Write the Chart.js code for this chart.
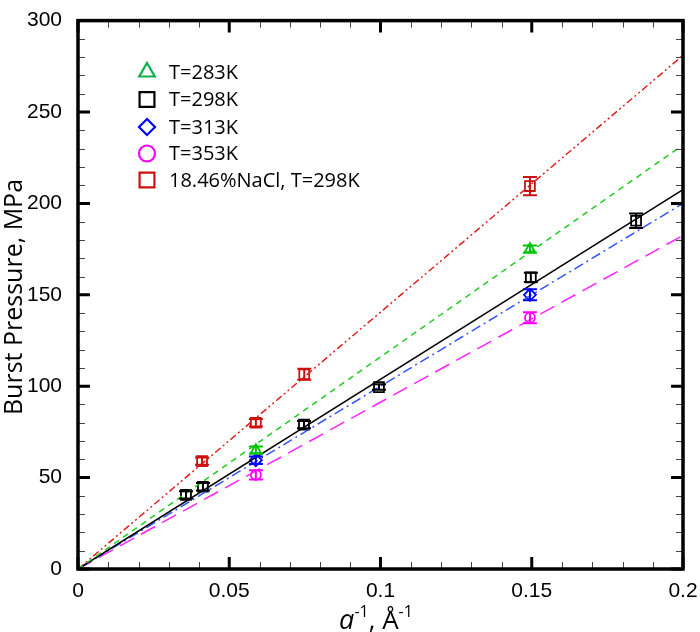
<!DOCTYPE html>
<html>
<head>
<meta charset="utf-8">
<script src="https://cdn.jsdelivr.net/npm/chart.js@4.4.0/dist/chart.umd.min.js"></script>
<style>
  html, body { margin: 0; padding: 0; background: #fff; }
  #wrap { width: 700px; height: 632px; }
</style>
</head>
<body>
<div id="wrap"><canvas id="chart"></canvas></div>
<script>
// axis ranges / ticks
const xTicks = [0, 0.05, 0.1, 0.15, 0.2];
const yTicks = [0, 50, 100, 150, 200, 250, 300];

// series
const seriesNames = ['T=283K', 'T=298K', 'T=313K', 'T=353K', '18.46%NaCl, T=298K'];

const x283 = [0.0588, 0.1494];
const y283 = [65, 175];
const e283 = [2, 2];

const x298 = [0.0357, 0.0413, 0.0747, 0.0995, 0.1497, 0.1845];
const y298 = [40.5, 45, 79, 99.5, 159.5, 190.5];
const e298 = [2, 2, 2, 1.5, 2.5, 4];

const x313 = [0.0588, 0.1494];
const y313 = [59.5, 150];
const e313 = [2, 3];

const x353 = [0.0588, 0.1494];
const y353 = [51.5, 137.5];
const e353 = [2.5, 3];

const xNaCl = [0.041, 0.0588, 0.0748, 0.1494];
const yNaCl = [59, 80, 106.5, 209.5];
const eNaCl = [2, 2, 3, 5];

// linear fits through the origin
const fitX = [0, 0.2];
const fit283 = [0, 232];
const fit298 = [0, 207.5];
const fit313 = [0, 200];
const fit353 = [0, 182.5];
const fitNaCl = [0, 281];

const pts = (xs, ys) => xs.map((v, i) => ({ x: v, y: ys[i] }));

const markerSets = [
  { label: seriesNames[0], xs: x283, ys: y283, err: e283, color: '#00c400', style: 'triangle', r: 6 },
  { label: seriesNames[1], xs: x298, ys: y298, err: e298, color: '#000000', style: 'rect', r: 7 },
  { label: seriesNames[2], xs: x313, ys: y313, err: e313, color: '#0000ff', style: 'rectRot', r: 6 },
  { label: seriesNames[3], xs: x353, ys: y353, err: e353, color: '#ff00ff', style: 'circle', r: 5 },
  { label: seriesNames[4], xs: xNaCl, ys: yNaCl, err: eNaCl, color: '#cc1111', style: 'rect', r: 7 },
];

const fitSets = [
  { ys: fit283, color: '#22cc22', dash: [6, 5] },
  { ys: fit298, color: '#000000', dash: [] },
  { ys: fit313, color: '#3355ff', dash: [10, 4, 2, 4] },
  { ys: fit353, color: '#ff22ff', dash: [16, 8] },
  { ys: fitNaCl, color: '#e02020', dash: [7, 3, 2, 3, 2, 3] },
];

const datasets = [];
fitSets.forEach(f => {
  datasets.push({
    type: 'line',
    data: pts(fitX, f.ys),
    borderColor: f.color,
    borderWidth: 1.5,
    borderDash: f.dash,
    pointRadius: 0,
    fill: false,
  });
});
markerSets.forEach(m => {
  datasets.push({
    type: 'scatter',
    label: m.label,
    data: pts(m.xs, m.ys),
    errors: m.err,
    borderColor: m.color,
    backgroundColor: 'rgba(0,0,0,0)',
    pointStyle: m.style,
    pointRadius: m.r,
    pointBorderWidth: 1.8,
  });
});

// error bars with caps
const errorBars = {
  id: 'errorBars',
  afterDatasetsDraw(chart) {
    const { ctx, scales: { x, y } } = chart;
    ctx.save();
    chart.data.datasets.forEach(ds => {
      if (!ds.errors) return;
      ctx.strokeStyle = ds.borderColor;
      ctx.lineWidth = 2;
      ds.data.forEach((p, i) => {
        const px = x.getPixelForValue(p.x);
        const top = y.getPixelForValue(p.y + ds.errors[i]);
        const bot = y.getPixelForValue(p.y - ds.errors[i]);
        ctx.beginPath();
        ctx.moveTo(px, top); ctx.lineTo(px, bot);
        ctx.moveTo(px - 7, top); ctx.lineTo(px + 7, top);
        ctx.moveTo(px - 7, bot); ctx.lineTo(px + 7, bot);
        ctx.stroke();
      });
    });
    ctx.restore();
  }
};

// frame, inward ticks, legend and axis titles
const decorations = {
  id: 'decorations',
  afterDraw(chart) {
    const { ctx, chartArea: a, scales: { x, y } } = chart;
    ctx.save();

    // minor ticks
    ctx.strokeStyle = '#444';
    ctx.lineWidth = 1;
    ctx.beginPath();
    for (let i = 0; i <= 20; i++) {
      const px = Math.round(x.getPixelForValue(i * 0.01)) + 0.5;
      ctx.moveTo(px, a.bottom); ctx.lineTo(px, a.bottom - 7);
      ctx.moveTo(px, a.top); ctx.lineTo(px, a.top + 7);
    }
    for (let i = 0; i <= 30; i++) {
      const py = Math.round(y.getPixelForValue(i * 10)) + 0.5;
      ctx.moveTo(a.left, py); ctx.lineTo(a.left + 7, py);
      ctx.moveTo(a.right, py); ctx.lineTo(a.right - 7, py);
    }
    ctx.stroke();

    // major ticks
    ctx.strokeStyle = '#000';
    ctx.lineWidth = 3;
    ctx.beginPath();
    xTicks.forEach(v => {
      const px = x.getPixelForValue(v);
      ctx.moveTo(px, a.bottom); ctx.lineTo(px, a.bottom - 12);
      ctx.moveTo(px, a.top); ctx.lineTo(px, a.top + 12);
    });
    yTicks.forEach(v => {
      const py = y.getPixelForValue(v);
      ctx.moveTo(a.left, py); ctx.lineTo(a.left + 12, py);
      ctx.moveTo(a.right, py); ctx.lineTo(a.right - 12, py);
    });
    ctx.stroke();

    // frame
    ctx.lineWidth = 3.5;
    ctx.strokeRect(a.left, a.top, a.right - a.left, a.bottom - a.top);

    // legend
    const rowY = [72, 99.5, 127, 153.5, 180];
    ctx.font = '20px "Open Sans"';
    ctx.textBaseline = 'middle';
    ctx.textAlign = 'left';
    markerSets.forEach((m, i) => {
      ctx.fillStyle = 'rgba(0,0,0,0)';
      ctx.lineWidth = 2.2;
      ctx.strokeStyle = i === 0 ? '#10b050' : m.color;
      Chart.helpers.drawPoint(ctx, {
        pointStyle: m.style,
        radius: m.style === 'rect' ? 10.5 : (m.style === 'triangle' ? 9 : 8),
        rotation: 0,
        borderWidth: 2.2,
      }, 147, rowY[i]);
      ctx.fillStyle = '#000';
      ctx.fillText(m.label, 169, rowY[i] + 1);
    });

    // y title
    ctx.fillStyle = '#000';
    ctx.save();
    ctx.translate(15, 297);
    ctx.rotate(-Math.PI / 2);
    ctx.font = '25px "Open Sans"';
    ctx.textAlign = 'center';
    ctx.textBaseline = 'middle';
    ctx.fillText('Burst Pressure, MPa', 0, 0);
    ctx.restore();

    // x title: a^-1, Å^-1
    const base = 629;
    const parts = [
      { t: 'a', font: 'italic 27px "Open Sans"', dy: 0 },
      { t: '-1', font: '16px "Open Sans"', dy: -12 },
      { t: ', Å', font: '26px "Open Sans"', dy: 0 },
      { t: '-1', font: '16px "Open Sans"', dy: -12 },
    ];
    let total = 0;
    parts.forEach(p => { ctx.font = p.font; p.w = ctx.measureText(p.t).width; total += p.w; });
    let cx = 376 - total / 2;
    ctx.textAlign = 'left';
    ctx.textBaseline = 'alphabetic';
    parts.forEach(p => {
      ctx.font = p.font;
      ctx.fillText(p.t, cx, base + p.dy);
      cx += p.w;
    });

    ctx.restore();
  }
};

new Chart(document.getElementById('chart'), {
  type: 'scatter',
  data: { datasets },
  options: {
    responsive: true,
    maintainAspectRatio: false,
    animation: false,
    layout: { padding: { top: 18, right: 17, left: 0, bottom: 0 } },
    plugins: {
      legend: { display: false },
      tooltip: { enabled: false },
    },
    scales: {
      x: {
        type: 'linear',
        min: xTicks[0],
        max: xTicks[xTicks.length - 1],
        grid: { display: false },
        border: { display: false },
        ticks: {
          stepSize: 0.05,
          padding: 2,
          color: '#000',
          font: { family: '"Liberation Sans", Arial', size: 21 },
          maxRotation: 0,
          callback: v => String(parseFloat(Number(v).toFixed(2))),
        },
        afterFit(scale) { scale.height = 63; },
      },
      y: {
        type: 'linear',
        min: yTicks[0],
        max: yTicks[yTicks.length - 1],
        grid: { display: false },
        border: { display: false },
        ticks: {
          stepSize: 50,
          padding: 8,
          color: '#000',
          font: { family: '"Liberation Sans", Arial', size: 21 },
        },
        afterFit(scale) { scale.width = 78; },
      },
    },
  },
  plugins: [errorBars, decorations],
});
</script>
</body>
</html>
